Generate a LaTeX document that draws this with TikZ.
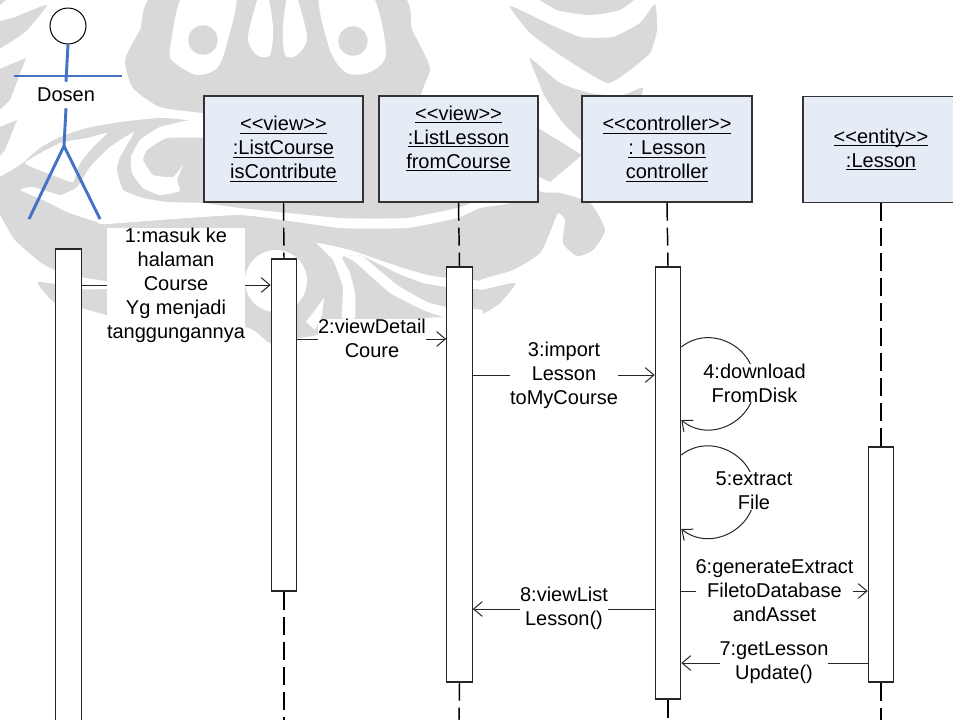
\documentclass[tikz,border=0pt]{standalone}
\usepackage{fontspec}
\setmainfont{Liberation Sans}
\usetikzlibrary{arrows.meta}
\definecolor{wm}{HTML}{D9D9D9}
\definecolor{boxfill}{HTML}{E6ECF6}
\definecolor{actorblue}{HTML}{4472C4}
\newcommand\ulin[1]{\setbox0\hbox{#1}\leavevmode\rlap{\rule[-2pt]{\wd0}{0.8pt}}\box0}
\tikzset{
  wmshape/.style={fill=wm,draw=none},
  wmhole/.style={fill=white,draw=none},
  objbox/.style={draw=black!80,line width=1pt,fill=boxfill,inner sep=0pt,align=center,minimum height=79.5pt},
  activation/.style={draw=black!85,line width=.8pt,fill=white,inner sep=0pt,minimum width=19.2pt},
  lifeline/.style={draw=black,line width=1.1pt,dash pattern=on 13.5pt off 5.25pt},
  msg/.style={draw=black!85,line width=.75pt,-{Straight Barb[length=6.5pt,width=11pt]}},
  msglabel/.style={fill=white,inner sep=0pt,align=center},
  actorline/.style={draw=actorblue,line width=2.2pt},
}
\begin{document}
\begin{tikzpicture}[x=.75pt,y=-.75pt,font=\fontsize{15}{18}\selectfont]
\useasboundingbox (0,0) rectangle (953,719);
\fill[white] (0,0) rectangle (953,719);
\begin{scope}
\clip (0,0) rectangle (953,719);
% watermark: main mass
\fill[wmshape] plot[smooth cycle,tension=.35] coordinates {
 (187,120)(160,118)(120,122)(87,128)(60,137)(40,148)(20,165)(-8,183)(-8,205)(0,215)(15,240)(40,262)(55,270)(81,277)(106,281)(120,285)(106,289)(81,289)(38,282)(55,303)(81,308)(106,315)(150,330)(245,327)(270,343)(300,338)(380,325)(425,318)(447,317)(480,315)(500,303)(515,283)(480,290)(480,280)(513,270)(540,253)(552,227)(558,213)(565,220)(563,243)(577,256)(593,250)(605,230)(590,203)(560,193)(538,190)(530,150)(480,120)(422,100)(430,68)(412,30)(393,-8)(163,-8)(140,30)(125,60)(133,88)(160,107)(203,113)(225,116)(225,125)};
% other watermark pieces
\fill[wmshape] plot[smooth cycle,tension=.3] coordinates {(510,6)(530,33)(563,57)(607,83)(630,70)(650,53)(657,30)(655,4)(640,23)(613,37)(580,37)(547,23)};
\fill[wmshape] plot[smooth cycle,tension=.3] coordinates {(533,-8)(557,10)(590,15)(620,10)(637,-8)};
\fill[wmshape] plot[smooth cycle,tension=.3] coordinates {(530,58)(560,83)(590,93)(620,96)(643,88)(630,120)(590,145)(565,125)(545,97)(538,80)};
\fill[wmshape] (525,120) -- (582,155) -- (550,182) -- (525,170) -- cycle;
\fill[wmshape] plot[smooth cycle,tension=.3] coordinates {(47,5)(15,17)(-8,25)(-8,52)(25,32)};
\fill[wmshape] (-8,-8) -- (15,-8) -- (-8,12) -- cycle;
\fill[wmshape] (-8,72) -- (26,58) -- (10,100) -- (-8,117) -- cycle;
\fill[wmshape] (-8,130) -- (17,120) -- (5,150) -- (-8,165) -- cycle;
% watermark: holes
\fill[wmhole] plot[smooth cycle,tension=.5] coordinates {(185,-8)(170,50)(175,63)(197,75)(217,68)(227,43)(235,-8)};
\fill[wmhole] plot[smooth cycle,tension=.5] coordinates {(260,-8)(248,37)(257,55)(270,55)(273,27)(267,-8)};
\fill[wmhole] plot[smooth cycle,tension=.5] coordinates {(288,-8)(283,27)(285,55)(297,55)(307,37)(295,-8)};
\fill[wmhole] plot[smooth cycle,tension=.5] coordinates {(320,-8)(330,50)(347,73)(370,72)(386,53)(370,-8)};
\fill[wmshape] (203,40) circle[radius=11pt];
\fill[wmshape] (353,41) circle[radius=11pt];
% white leaves and stripes
\fill[wmhole] plot[smooth cycle,tension=.25] coordinates {(25,163)(60,143)(87,138)(107,133)(93,147)(80,163)(73,182)(60,178)};
\fill[wmhole] plot[smooth cycle,tension=.25] coordinates {(134,132)(110,147)(90,167)(77,187)(60,195)(33,187)(20,190)(43,200)(67,212)(97,222)(107,224)(240,215)(340,228)(407,228)(457,218)(480,208)(510,203)(510,190)(480,200)(457,208)(407,218)(340,218)(240,208)(203,203)(167,202)(143,198)(123,190)(117,170)(120,157)};
\fill[wmhole] plot[smooth cycle,tension=.25] coordinates {(190,120)(160,127)(140,140)(131,157)(132,173)(143,188)(160,195)(180,191)(177,180)(183,165)(173,177)(153,175)(143,160)(147,150)(167,138)(210,137)(210,118)};
\fill[wmhole] plot[smooth cycle,tension=.2] coordinates {(317,243)(350,250)(400,267)(427,275)(447,278)(482,281)(482,289)(447,287)(423,283)(397,273)(360,255)(342,257)(350,273)(355,293)(355,318)(342,318)(343,287)(333,260)};
\fill[wmhole] plot[smooth cycle,tension=.2] coordinates {(345,256)(362,256)(397,285)(427,302)(447,307)(482,310)(482,322)(447,318)(423,310)(390,293)(355,262)};
\fill[wmhole] (276,281) circle[radius=23.25pt];
\fill[wmhole] (324,298) -- (322,315) -- (315,330) -- (306,322) -- cycle;
\end{scope}

% object boxes
\node[objbox,minimum width=119.25pt] (b1) at (283.5,149) {\ulin{<{}<view>{}>}\\\ulin{:ListCourse}\\\ulin{isContribute}};
\node[objbox,minimum width=119.25pt] (b2) at (458.5,149) {\ulin{<{}<view>{}>}\\\ulin{:ListLesson}\\\ulin{fromCourse}\\\mbox{}};
\node[objbox,minimum width=127.5pt] (b3) at (667,149) {\ulin{<{}<controller>{}>}\\\ulin{: Lesson}\\\ulin{controller}};
\node[objbox,minimum width=117pt] (b4) at (881,149.5) {\ulin{<{}<entity>{}>}\\\ulin{:Lesson}};

% activations
\node[activation,minimum height=360.75pt] (a0) at (68.5,489.5) {};
\node[activation,minimum height=249pt] (a1) at (284,425) {};
\node[activation,minimum height=311.25pt] (a2) at (459.5,474.5) {};
\node[activation,minimum height=324pt] (a3) at (668,483) {};
\node[activation,minimum height=176.25pt] (a4) at (881,564.5) {};

% lifeline ends
\coordinate (e1) at (284,720);
\coordinate (e2) at (459,720);
\coordinate (e3) at (668,720);
\coordinate (e4) at (881,720);
\draw[lifeline] (b1.south) -- (a1.north);
\draw[lifeline] (a1.south) -- (e1);
\draw[lifeline] (b2.south) -- (a2.north);
\draw[lifeline] (a2.south) -- (e2);
\draw[lifeline] (b3.south) -- (a3.north);
\draw[lifeline] (a3.south) -- (e3);
\draw[lifeline] (b4.south) -- (a4.north);
\draw[lifeline] (a4.south) -- (e4);

% actor
\node[draw=black,line width=.75pt,circle,fill=white,minimum size=27pt,inner sep=0pt] (head) at (68,26) {};
\node[fill=white,inner sep=0pt,minimum height=19.5pt] (dosen) at (66,95) {Dosen};
\coordinate (hip) at (64,146);
\coordinate (armL) at (14,76);
\coordinate (armR) at (122,76);
\coordinate (footL) at (29,219);
\coordinate (footR) at (100,219);
\draw[actorline] (head.south) -- (dosen.north);
\draw[actorline] (armL) -- (armR);
\draw[actorline] (dosen.south) -- (hip);
\draw[actorline] (hip) -- (footL);
\draw[actorline] (hip) -- (footR);

% messages
\draw[msg] (a0.east |- 0,285) -- (a1.west |- 0,285);
\draw[msg] (a1.east |- 0,339) -- (a2.west |- 0,339);
\draw[msg] (a2.east |- 0,375) -- (a3.west |- 0,375);
\draw[msg] (a3.east |- 0,347) .. controls (710,324) and (755,346) .. (755,384) .. controls (755,421) and (710,444) .. (a3.east |- 0,420);
\draw[msg] (a3.east |- 0,455) .. controls (710,432) and (755,455) .. (755,492) .. controls (755,530) and (710,552) .. (a3.east |- 0,529);
\draw[msg] (a3.east |- 0,591) -- (a4.west |- 0,591);
\draw[msg] (a4.west |- 0,663) -- (a3.east |- 0,663);
\draw[msg] (a3.west |- 0,609) -- (a2.east |- 0,609);

% message labels
\node[msglabel] (m1) at (176,285) {1:masuk ke\\halaman\\Course\\Yg menjadi\\tanggungannya};
\node[msglabel] (m2) at (372,338) {2:viewDetail\\Coure};
\node[msglabel] (m3) at (564,375) {3:import\\Lesson\\toMyCourse};
\node[msglabel] (m4) at (754.5,383) {4:download\\FromDisk};
\node[msglabel] (m5) at (754,491) {5:extract\\File};
\node[msglabel] (m6) at (774.5,591) {6:generateExtract\\FiletoDatabase\\andAsset};
\node[msglabel] (m7) at (774,663) {7:getLesson\\Update()};
\node[msglabel] (m8) at (564,608) {8:viewList\\Lesson()};
\end{tikzpicture}
\end{document}
